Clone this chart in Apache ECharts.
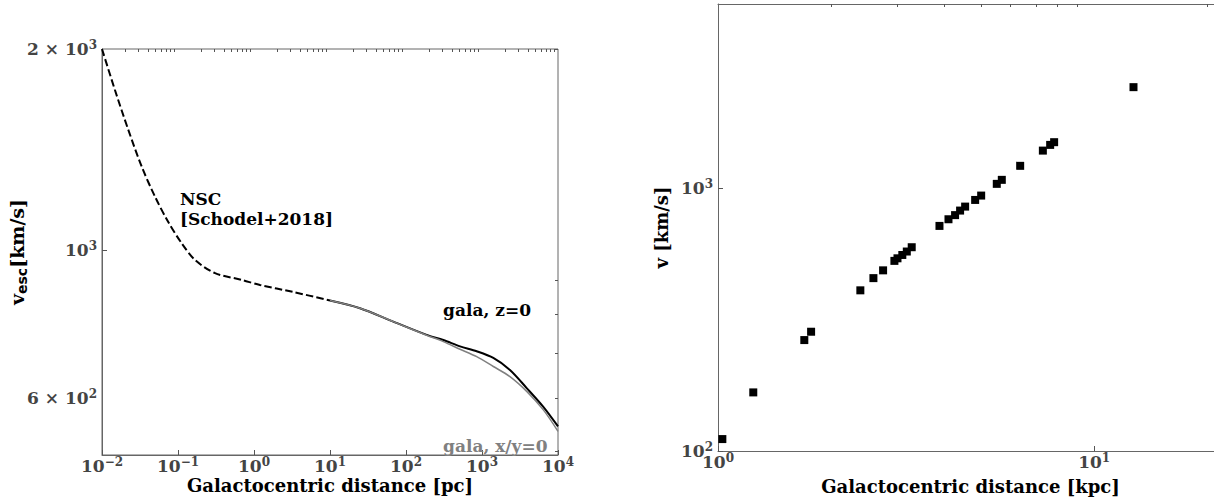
<!DOCTYPE html>
<html><head><meta charset="utf-8">
<script src="https://cdn.jsdelivr.net/npm/echarts@6/dist/echarts.min.js"></script>
<style>html,body{margin:0;padding:0;background:#fff}#c{width:1214px;height:497px}</style>
</head><body><div id="c"></div>
<script>
// ---- Left panel: v_esc vs galactocentric distance [pc] ----
const nscR = [0.01, 0.0148, 0.0222, 0.0333, 0.0498, 0.0745, 0.112, 0.1675, 0.307, 0.689, 1.2, 3.29, 10];
const nscV = [2000, 1736, 1513, 1333, 1202, 1101, 1023, 966, 923, 902, 886, 865, 840];
const galaR = [10, 24.8, 68, 187, 310, 514, 851, 1409, 2333, 3873, 6412, 10000];
const galaZ0V = [840, 818, 781, 746, 733, 717, 705, 689, 661, 621, 582, 544];
const galaXY0V = [840, 818, 781, 745, 729, 710, 692, 669, 646, 614, 576, 535];

// ---- Right panel: v vs galactocentric distance [kpc] ----
const distKpc = [1.027, 1.241, 1.696, 1.768, 2.390, 2.589, 2.747, 2.944, 3.000, 3.09, 3.176, 3.273,
  3.879, 4.099, 4.268, 4.401, 4.539, 4.826, 5.007, 5.509, 5.681, 6.357, 7.304, 7.638, 7.826, 12.72];
const velKms = [111, 167, 264, 284, 408, 454, 486, 528, 540, 556, 573, 595,
  717, 760, 788, 820, 849, 900, 935, 1036, 1073, 1213, 1386, 1457, 1492, 2415];

// ---- Tick labels ----
const leftXTicks = [0.01, 0.1, 1, 10, 100, 1000, 10000];
const leftYLabels = [600, 1000, 2000];
const leftYMajor = [1000];
const leftYMinor = [500, 600, 700, 800, 900, 2000];
const rightXTicks = [1, 10];
const rightYTicks = [100, 1000];

const annotations = [
  { text: 'NSC\n[Schodel+2018]', r: 0.106, v: 1150, color: '#000000' },
  { text: 'gala, z=0', r: 307, v: 813, color: '#000000' },
  { text: 'gala, x/y=0', r: 307, v: 509, color: '#808080' }
];

function minorsBetween(lo, hi) {
  const out = [];
  for (let e = lo; e < hi; e++) for (let m = 2; m <= 9; m++) out.push(m * Math.pow(10, e));
  return out;
}
const leftXMinor = minorsBetween(-2, 4);
const rightXMinor = minorsBetween(0, 1).concat([20]);
const rightYMinor = minorsBetween(2, 3).concat([2000, 3000, 4000, 5000]);

const SERIF = 'DejaVu Serif';
const SANS = 'DejaVu Sans';
const richTick = {
  b: { fontFamily: SERIF, fontWeight: 'bold', fontSize: 17, color: '#444', lineHeight: 20 },
  s: { fontFamily: SERIF, fontWeight: 'bold', fontSize: 12, color: '#444', lineHeight: 12, verticalAlign: 'top' }
};
function powLabel(v) {
  const ex = Math.floor(Math.log10(v) + 1e-9);
  const m = Math.round(v / Math.pow(10, ex));
  const es = ex < 0 ? '\u2212' + (-ex) : String(ex);
  return (m === 1 ? '{b|10}' : '{b|' + m + ' \u00d7 10}') + '{s|' + es + '}';
}

const axisLineStyle = { color: '#666', width: 1 };
function majorAxis(gridIndex, min, max, ticks, labels, margin, extra) {
  return Object.assign({
    type: 'log', logBase: 10, gridIndex, min, max,
    nameMoveOverlap: false,
    axisLine: { show: true, lineStyle: axisLineStyle },
    axisTick: { show: true, inside: true, length: 5, customValues: ticks, lineStyle: { color: '#555', width: 1 } },
    axisLabel: { show: true, customValues: labels, formatter: powLabel, rich: richTick, margin: margin, hideOverlap: false, showMinLabel: true, showMaxLabel: true },
    splitLine: { show: false }, minorTick: { show: false }
  }, extra || {});
}
function minorAxis(gridIndex, min, max, ticks) {
  return {
    type: 'log', logBase: 10, gridIndex, min, max,
    axisLine: { show: false },
    axisTick: { show: true, inside: true, length: 3, customValues: ticks, lineStyle: { color: '#555', width: 1 } },
    axisLabel: { show: false }, splitLine: { show: false }
  };
}
function spineAxis(gridIndex, min, max, position) {
  return {
    type: 'log', logBase: 10, gridIndex, min, max, position,
    axisLine: { show: true, onZero: false, lineStyle: axisLineStyle },
    axisTick: { show: false }, axisLabel: { show: false }, splitLine: { show: false }
  };
}
const titleStyle = { fontFamily: SERIF, fontWeight: 'bold', fontSize: 18, lineHeight: 18, color: '#000' };

const option = {
  animation: false,
  backgroundColor: '#fff',
  grid: [
    { left: 102, top: 49, width: 456, height: 406, outerBoundsMode: 'none', containLabel: false,
      show: true, borderColor: '#666', borderWidth: 1, backgroundColor: 'transparent' },
    { left: 718, top: 4, width: 505, height: 447, outerBoundsMode: 'none', containLabel: false, show: false }
  ],
  xAxis: [
    majorAxis(0, 0.01, 10000, leftXTicks, leftXTicks, 1, {
      name: 'Galactocentric distance [pc]', nameLocation: 'middle', nameGap: 21, nameTextStyle: titleStyle }),
    minorAxis(0, 0.01, 10000, leftXMinor),
    majorAxis(1, 1, 22, rightXTicks, rightXTicks, 1, {
      name: 'Galactocentric distance [kpc]', nameLocation: 'middle', nameGap: 26, nameTextStyle: titleStyle }),
    minorAxis(1, 1, 22, rightXMinor),
    spineAxis(1, 1, 22, 'top')
  ],
  yAxis: [
    majorAxis(0, 493, 2000, leftYMajor, leftYLabels, 5, {
      name: '{v|v}{sub|esc}{t|[km/s]}', nameLocation: 'middle', nameGap: 73,
      nameTextStyle: { rich: {
        v: { fontFamily: SERIF, fontWeight: 'bold', fontSize: 19, color: '#000', lineHeight: 24 },
        sub: { fontFamily: SANS, fontWeight: 'bold', fontSize: 14, color: '#000', lineHeight: 16, verticalAlign: 'bottom' },
        t: { fontFamily: SERIF, fontWeight: 'bold', fontSize: 19, color: '#000', lineHeight: 24 }
      } } }),
    minorAxis(0, 493, 2000, leftYMinor),
    majorAxis(1, 100, 5000, rightYTicks, rightYTicks, 5, {
      name: 'v [km/s]', nameLocation: 'middle', nameGap: 48, nameTextStyle: titleStyle }),
    minorAxis(1, 100, 5000, rightYMinor)
  ],
  series: [
    { type: 'line', xAxisIndex: 0, yAxisIndex: 0, data: nscR.map((r, i) => [r, nscV[i]]),
      showSymbol: false, symbol: 'none', smooth: 0.3,
      lineStyle: { color: '#000', width: 2, type: [7.4, 3.2] }, z: 3 },
    { type: 'line', xAxisIndex: 0, yAxisIndex: 0, data: galaR.map((r, i) => [r, galaXY0V[i]]),
      showSymbol: false, symbol: 'none', smooth: 0.3,
      lineStyle: { color: '#808080', width: 1.5 }, z: 3 },
    { type: 'line', xAxisIndex: 0, yAxisIndex: 0, data: galaR.map((r, i) => [r, galaZ0V[i]]),
      showSymbol: false, symbol: 'none', smooth: 0.3,
      lineStyle: { color: '#000', width: 2 }, z: 2 },
    { type: 'scatter', xAxisIndex: 0, yAxisIndex: 0, symbolSize: 0, silent: true,
      itemStyle: { opacity: 1 },
      data: annotations.map(a => ({ value: [a.r, a.v] })),
      label: { show: true, position: 'right', distance: 0, align: 'left', verticalAlign: 'middle',
        formatter: p => annotations[p.dataIndex].text,
        color: '#000', opacity: 1, textBorderWidth: 0,
        fontFamily: SERIF, fontWeight: 'bold', fontSize: 17, lineHeight: 20 }, z: 5 },
    { type: 'scatter', xAxisIndex: 2, yAxisIndex: 2, symbol: 'rect', symbolSize: 8,
      itemStyle: { color: '#000', opacity: 1 }, data: distKpc.map((d, i) => [d, velKms[i]]), z: 4 }
  ]
};
// per-annotation colours
option.series[3].data.forEach((d, i) => { d.label = { color: annotations[i].color }; });
const chart = echarts.init(document.getElementById('c'), null, { renderer: 'svg' });
chart.setOption(option);
</script>
</body></html>
